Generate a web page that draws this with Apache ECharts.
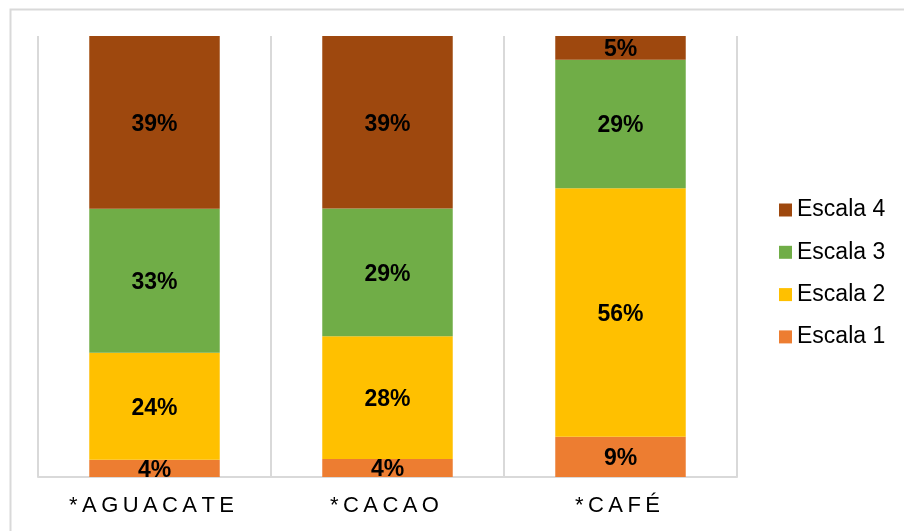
<!DOCTYPE html>
<html><head><meta charset="utf-8">
<script src="https://cdn.jsdelivr.net/npm/echarts@6/dist/echarts.min.js"></script>
<style>html,body{margin:0;padding:0;background:#fff}#c{width:904px;height:531px}</style>
</head><body><div id="c"></div>
<script>
const categories = ['*AGUACATE', '*CACAO', '*CAFÉ'];
const escala1 = [3.9, 4.1, 9.1];
const escala2 = [24.3, 27.8, 56.4];
const escala3 = [32.6, 29.0, 29.1];
const escala4 = [39.2, 39.1, 5.4];
const seriesNames = ['Escala 1', 'Escala 2', 'Escala 3', 'Escala 4'];
const colors = ['#ED7D31', '#FFC000', '#70AD47', '#9E480E'];

const all = [escala1, escala2, escala3, escala4];
const spaced = s => s.split('').join('\u2009');

const chart = echarts.init(document.getElementById('c'));
chart.setOption({
  animation: false,
  textStyle: { fontFamily: '"Liberation Sans", Arial, sans-serif' },
  graphic: [{
    type: 'rect', left: 8, top: 7, shape: { x: 0, y: 0, width: 1000, height: 1000 },
    style: { fill: 'none', stroke: '#d9d9d9', lineWidth: 2 }, silent: true, z: -10
  }],
  grid: { left: 38, right: 167, top: 36, bottom: 54, containLabel: false },
  legend: {
    orient: 'vertical', left: 779, top: 198.5, padding: 0,
    data: seriesNames.slice().reverse(),
    icon: 'rect', itemWidth: 13, itemHeight: 13, itemGap: 19.3,
    textStyle: { fontSize: 23, lineHeight: 23, color: '#000', padding: [0, 0, 0, 0] },
    selectedMode: false
  },
  xAxis: {
    type: 'category', data: categories,
    axisLine: { lineStyle: { color: '#d9d9d9', width: 2 } },
    axisTick: { show: false },
    splitLine: { show: true, lineStyle: { color: '#d9d9d9', width: 2 } },
    axisLabel: { fontSize: 22, color: '#000', margin: 18, padding: [0, 6, 0, 0], formatter: v => spaced(v) }
  },
  yAxis: {
    type: 'value', min: 0, max: 100, show: false, splitLine: { show: false }
  },
  series: all.map((arr, k) => ({
    name: seriesNames[k], type: 'bar', stack: 'total', barWidth: '56%',
    itemStyle: { color: colors[k] },
    label: {
      show: true, position: 'inside', offset: [0, 2], fontSize: 23, fontWeight: 'bold', color: '#000',
      formatter: p => Math.round(p.value) + '%'
    },
    data: arr
  }))
});
</script></body></html>
